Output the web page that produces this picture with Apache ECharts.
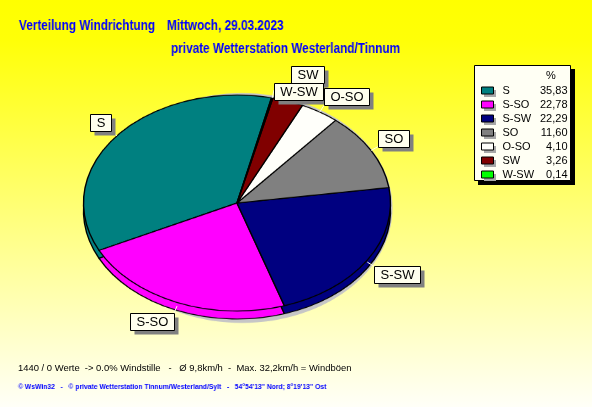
<!DOCTYPE html>
<html>
<head>
<meta charset="utf-8">
<script src="https://cdn.jsdelivr.net/npm/echarts@6/dist/echarts.min.js"></script>
<style>
html,body{margin:0;padding:0;}
#wrap{position:relative;width:592px;height:407px;overflow:hidden;
  background:linear-gradient(to bottom,#FFFF00 0%,#FFFF08 10%,#FFFFF8 100%);}
#pie,#main,#narrow{position:absolute;left:0;top:0;width:592px;height:407px;}
</style>
</head>
<body>
<div id="wrap"><div id="pie"></div><div id="narrow"></div><div id="main"></div></div>
<script>
// ---- data ----
const categories = ['S', 'S-SO', 'S-SW', 'SO', 'O-SO', 'SW', 'W-SW'];
const percents = [35.83, 22.78, 22.29, 11.60, 4.10, 3.26, 0.14];
const legendHeader = '%';
const titleMain = 'Verteilung Windrichtung';
const titleDate = 'Mittwoch, 29.03.2023';
const titleStation = 'private Wetterstation Westerland/Tinnum';
const infoLine = '1440 / 0 Werte  -> 0.0% Windstille   -   \u00D8 9,8km/h  -  Max. 32,2km/h = Windb\u00F6en';
const creditLine = '\u00A9 WsWin32   -   \u00A9 private Wetterstation Tinnum/Westerland/Sylt   -   54\u00B054\'13\'\' Nord; 8\u00B019\'13\'\' Ost';

// ---- styles / layout ----
const sliceColors = ['#008080', '#FF00FF', '#000080', '#808080', '#FFFFFA', '#800000', '#00FF00'];
const CX = 237, CY = 203, RX = 153.5, RY = 108, DEPTH = 8, START = 77;
const SY = RY / RX;
const SANS = '"Liberation Sans",Arial,sans-serif';
const LEG = {x: 474, y: 65, w: 97, h: 116};
const mctx = document.createElement('canvas').getContext('2d');
function measure(font, text) { mctx.font = font; return mctx.measureText(text).width; }

// ---- pie (drawn as a circle, squashed into the tilted ellipse) ----
const pieDiv = document.getElementById('pie');
pieDiv.style.transformOrigin = '0 ' + CY + 'px';
pieDiv.style.transform = 'scaleY(' + SY + ')';
const pieChart = echarts.init(pieDiv, null, {renderer: 'canvas'});
const pieData = categories.map((c, i) => ({name: c, value: percents[i], itemStyle: {color: sliceColors[i]}}));
const pieCommon = {
  type: 'pie', radius: RX, startAngle: START, clockwise: false,
  data: pieData, silent: true, label: {show: false}, labelLine: {show: false},
  itemStyle: {borderColor: '#000', borderWidth: 1.4}, emphasis: {disabled: true}
};
pieChart.setOption({
  animation: false,
  backgroundColor: 'transparent',
  graphic: [{
    type: 'ellipse', z: 0,
    shape: {cx: CX + 5, cy: CY + 5 / SY, rx: RX - 3, ry: (RY + 7) / SY},
    style: {fill: '#C6C6C6'}
  }],
  series: [
    Object.assign({}, pieCommon, {center: [CX, CY + DEPTH / SY], z: 1}),
    Object.assign({}, pieCommon, {center: [CX, CY], z: 2})
  ]
});

// ---- condensed bold texts (titles, credit line): squeezed horizontally ----
const NX = 136 / measure('bold 14px "Liberation Sans"', titleMain);
const narrowDiv = document.getElementById('narrow');
narrowDiv.style.width = Math.ceil(592 / NX) + 'px';
narrowDiv.style.transformOrigin = '0 0';
narrowDiv.style.transform = 'scaleX(' + NX + ')';
const creditSize = 7 * 309 / (NX * measure('bold 7px "Liberation Sans"', creditLine));
const infoSize = 10 * 334 / measure('10px "Liberation Sans"', infoLine);
const narrowChart = echarts.init(narrowDiv, null, {renderer: 'canvas'});
const blueTitle = {fontFamily: SANS, fontWeight: 'bold', fontSize: 14, color: '#0000FF'};
narrowChart.setOption({
  animation: false,
  backgroundColor: 'transparent',
  title: [
    {text: titleMain, left: 19 / NX, top: 19, padding: 0, textStyle: blueTitle},
    {text: titleDate, left: 167 / NX, top: 19, padding: 0, textStyle: blueTitle},
    {text: titleStation, left: 171 / NX, top: 42, padding: 0, textStyle: blueTitle},
    {text: creditLine, left: 18 / NX, top: 383, padding: 0,
      textStyle: {fontFamily: SANS, fontWeight: 'bold', fontSize: creditSize, color: '#0000FF'}}
  ]
});

// ---- labels computed from data ----
const total = percents.reduce((a, b) => a + b, 0);
const LBL_H = 17, LBL_L = 8;
let cum = 0;
const boxes = categories.map((c, i) => {
  const mid = (cum + percents[i] / 2) / total;
  cum += percents[i];
  const th = (START + 360 * mid) * Math.PI / 180;
  const ux = Math.cos(th), uy = -Math.sin(th);
  const ex = CX + RX * ux, ey = CY + RY * uy + (uy > 0 ? 4 * uy : 0);
  const px = ex + LBL_L * ux, py = ey + LBL_L * uy;
  const w = Math.round(measure('13px "Liberation Sans"', c) + 12);
  const x = ux >= 0 ? px : px - w;
  const y = uy < 0 ? py - LBL_H : py;
  return {name: c, ex, ey, px, py, x, y, w};
});
// resolve overlaps: stack the two colliding labels around their common centre
for (let i = 0; i < boxes.length; i++) {
  for (let j = i + 1; j < boxes.length; j++) {
    const a = boxes[i], b = boxes[j];
    const ox = a.x < b.x + b.w && b.x < a.x + a.w;
    const oy = a.y < b.y + LBL_H && b.y < a.y + LBL_H;
    if (ox && oy) {
      const m = (a.y + b.y) / 2 + LBL_H / 2;
      a.y = m - LBL_H;
      b.y = m;
    }
  }
}
const labelGraphics = [];
boxes.forEach(b => {
  const x = Math.round(b.x) + 0.5, y = Math.round(b.y) + 0.5;
  labelGraphics.push({type: 'line', z: 10, shape: {x1: b.ex, y1: b.ey, x2: b.px, y2: b.py},
    style: {stroke: '#FFFFE0', lineWidth: 1}});
  labelGraphics.push({type: 'rect', z: 11, shape: {x: x + 4, y: y + 4, width: b.w, height: LBL_H},
    style: {fill: '#808080'}});
  labelGraphics.push({type: 'rect', z: 12, shape: {x: x, y: y, width: b.w, height: LBL_H},
    style: {fill: '#FFFFEE', stroke: '#000', lineWidth: 1}});
  labelGraphics.push({type: 'text', z: 13, style: {x: x + b.w / 2, y: y + LBL_H / 2 + 0.5, text: b.name,
    font: '13px "Liberation Sans"', fill: '#000', textAlign: 'center', textVerticalAlign: 'middle'}});
});

// ---- main layer: legend, labels, info line ----
const mainChart = echarts.init(document.getElementById('main'), null, {renderer: 'canvas'});
const fmtPct = v => v.toFixed(2).replace('.', ',');
const valueOf = {};
categories.forEach((c, i) => { valueOf[c] = fmtPct(percents[i]); });
const legendBase = {
  orient: 'vertical', padding: [20, 4, 1, 7], itemGap: 3,
  itemWidth: 12, itemHeight: 7, icon: 'rect', selectedMode: false,
  data: categories,
  formatter: name => '{n|' + name + '}{v|' + valueOf[name] + '}'
};
const legendText = color => ({
  fontFamily: SANS, fontSize: 11, color: color,
  rich: {
    n: {fontFamily: SANS, fontSize: 11, color: color, width: 40, padding: [0, 0, 0, 4]},
    v: {fontFamily: SANS, fontSize: 11, color: color, width: 25, align: 'right'}
  }
});
mainChart.setOption({
  animation: false,
  backgroundColor: 'transparent',
  color: sliceColors,
  title: [
    {text: infoLine, left: 18, top: 364, padding: 0,
      textStyle: {fontFamily: SANS, fontWeight: 'normal', fontSize: infoSize, color: '#000'}}
  ],
  legend: [
    // icon shadows
    Object.assign({}, legendBase, {
      left: LEG.x + 3, top: LEG.y + 3, z: 1,
      itemStyle: {color: '#A8A8A8', borderWidth: 0},
      textStyle: legendText('rgba(0,0,0,0)')
    }),
    // the legend itself
    Object.assign({}, legendBase, {
      left: LEG.x, top: LEG.y, z: 2,
      itemStyle: {borderColor: '#000', borderWidth: 1},
      textStyle: legendText('#000')
    })
  ],
  graphic: [
    {type: 'rect', z: 0, shape: {x: LEG.x + 4, y: LEG.y + 4, width: LEG.w, height: LEG.h}, style: {fill: '#000'}},
    {type: 'rect', z: 0, shape: {x: LEG.x + 0.5, y: LEG.y + 0.5, width: LEG.w - 1, height: LEG.h - 1},
      style: {fill: '#FFFFF4', stroke: '#000', lineWidth: 1}},
    {type: 'text', z: 20, style: {x: 551, y: 76, text: legendHeader, font: '11px "Liberation Sans"',
      fill: '#000', textAlign: 'center', textVerticalAlign: 'middle'}}
  ].concat(labelGraphics),
  series: [{
    type: 'pie', radius: [0, 0], center: [CX, CY], silent: true,
    label: {show: false}, labelLine: {show: false},
    data: pieData
  }]
});
</script>
</body>
</html>
